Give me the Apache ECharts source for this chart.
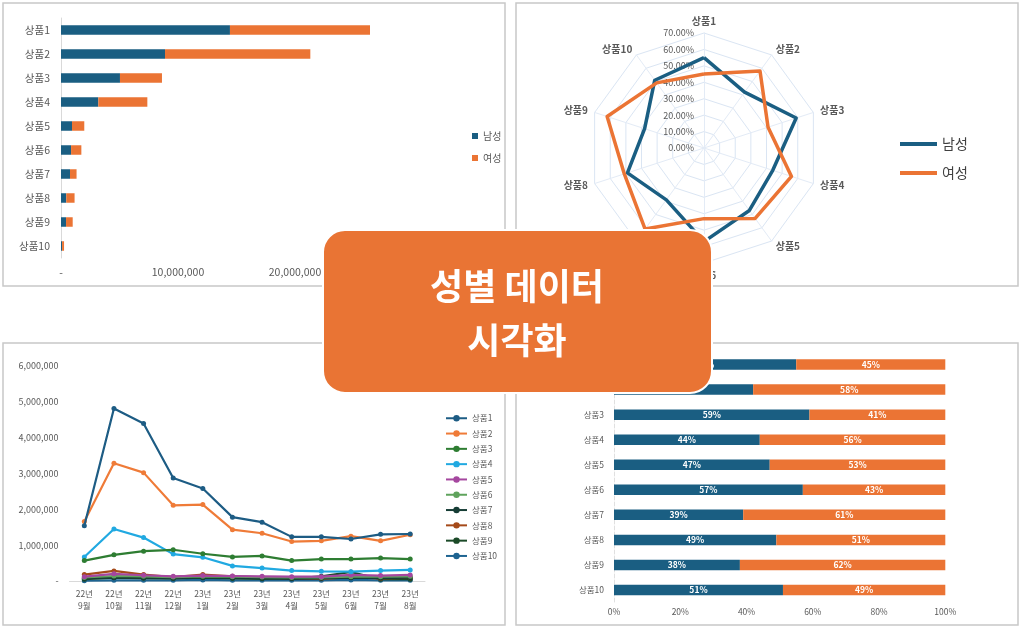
<!DOCTYPE html>
<html><head><meta charset="utf-8">
<script src="https://cdn.jsdelivr.net/npm/echarts@6/dist/echarts.min.js"></script>
<style>html,body{margin:0;padding:0;background:#fff}#c{width:1024px;height:630px}</style>
</head><body><div id="c"></div>
<script>
// ---------- data ----------
const products = ['상품1','상품2','상품3','상품4','상품5','상품6','상품7','상품8','상품9','상품10'];
const genders = ['남성','여성'];
const maleSales = [14440000, 8890000, 5040000, 3190000, 940000, 860000, 770000, 450000, 430000, 90000];
const femaleSales = [11970000, 12420000, 3590000, 4190000, 1050000, 880000, 560000, 710000, 570000, 170000];
const malePct = [55, 42, 59, 44, 47, 57, 39, 49, 38, 51];
const femalePct = [45, 58, 41, 56, 53, 43, 61, 51, 62, 49];
const months = ['22년\n9월','22년\n10월','22년\n11월','22년\n12월','23년\n1월','23년\n2월','23년\n3월','23년\n4월','23년\n5월','23년\n6월','23년\n7월','23년\n8월'];
const p1 = [1540000,4810000,4390000,2870000,2580000,1780000,1640000,1230000,1230000,1170000,1300000,1310000];
const p2 = [1660000,3280000,3020000,2110000,2130000,1430000,1330000,1100000,1120000,1250000,1120000,1290000];
const p3 = [570000,730000,830000,870000,760000,670000,700000,570000,610000,610000,640000,610000];
const p4 = [670000,1450000,1210000,750000,660000,420000,360000,290000,270000,260000,290000,310000];
const p5 = [120000,200000,160000,130000,150000,140000,130000,120000,120000,170000,150000,170000];
const p6 = [100000,140000,130000,110000,130000,120000,110000,100000,100000,120000,120000,130000];
const p7 = [80000,100000,90000,80000,100000,90000,80000,60000,70000,90000,80000,90000];
const p8 = [180000,280000,180000,110000,180000,130000,100000,70000,60000,110000,70000,90000];
const p9 = [50000,90000,80000,70000,90000,70000,60000,70000,130000,250000,50000,50000];
const p10 = [10000,20000,20000,20000,30000,20000,20000,20000,20000,30000,20000,20000];
const monthlySeries = [p1,p2,p3,p4,p5,p6,p7,p8,p9,p10];
const titleLines = ['성별 데이터','시각화'];

// ---------- style ----------
const FONT = '"Noto Sans CJK KR", "Noto Sans", sans-serif';
const NAVY = '#1a5e82', ORANGE = '#eb7434', GRAY = '#595959';
const lineColors = ['#1d5c84','#ef7b38','#2e7d32','#21a9e1','#a5479f','#5fa35c','#163d35','#a54a1a','#1b4a28','#1e6491'];
const numFmt = v => v === 0 ? '-' : v.toLocaleString('en-US');
const radarOrder = [0,9,8,7,6,5,4,3,2,1];

const chart = echarts.init(document.getElementById('c'), null, {renderer:'canvas'});
const option = {
  animation: false,
  backgroundColor: '#fff',
  textStyle: {fontFamily: FONT},
  grid: [
    {left: 61, top: 18, width: 351, height: 240},
    {left: 69.5, top: 365.7, width: 355.5, height: 215.3},
    {left: 614, top: 352, width: 331.3, height: 250.5}
  ],
  xAxis: [
    {gridIndex: 0, type: 'value', min: 0, max: 30000000, interval: 10000000,
     axisLine: {show: false}, axisTick: {show: false}, splitLine: {show: false},
     axisLabel: {formatter: numFmt, fontSize: 10.5, color: GRAY, margin: 9}},
    {gridIndex: 1, type: 'category', data: months, boundaryGap: true,
     axisLine: {lineStyle: {color: '#d9d9d9'}}, axisTick: {show: false},
     axisLabel: {fontSize: 8.5, color: GRAY, lineHeight: 12, margin: 7, interval: 0}},
    {gridIndex: 2, type: 'value', min: 0, max: 100, interval: 20,
     axisLine: {show: false}, axisTick: {show: false}, splitLine: {show: false},
     axisLabel: {formatter: '{value}%', fontSize: 8.5, color: GRAY, margin: 5}}
  ],
  yAxis: [
    {gridIndex: 0, type: 'category', data: products, inverse: true,
     axisLine: {lineStyle: {color: '#d9d9d9'}}, axisTick: {show: false},
     axisLabel: {fontSize: 10.5, color: GRAY, margin: 11}},
    {gridIndex: 1, type: 'value', min: 0, max: 6000000, interval: 1000000,
     axisLine: {show: false}, axisTick: {show: false}, splitLine: {show: false},
     axisLabel: {formatter: numFmt, fontSize: 9, color: GRAY, margin: 11}},
    {gridIndex: 2, type: 'category', data: products, inverse: true,
     axisLine: {lineStyle: {color: '#e0e0e0', type: 'dashed'}}, axisTick: {show: false},
     axisLabel: {fontSize: 8.5, color: GRAY, margin: 10}}
  ],
  radar: {
    center: [704, 148], radius: 115, startAngle: 90, splitNumber: 7, shape: 'polygon',
    indicator: radarOrder.map(i => i === 0
      ? {name: products[i], min: 0, max: 70, axisLabel: {show: true}}
      : {name: products[i], min: 0, max: 70}),
    axisName: {color: GRAY, fontSize: 10, fontWeight: 'bold'},
    nameGap: 7,
    splitLine: {lineStyle: {color: '#dae5f3', width: 1}},
    splitArea: {show: false},
    axisLine: {lineStyle: {color: '#e3ebf6'}},
    axisTick: {show: false},
    axisLabel: {show: false, formatter: v => v.toFixed(2) + '%', fontSize: 9, color: GRAY, margin: 10,
                showMinLabel: true, showMaxLabel: true}
  },
  legend: [
    {data: genders, orient: 'vertical', left: 467, top: 126, icon: 'rect', itemWidth: 6, itemHeight: 6,
     itemGap: 12, textStyle: {fontSize: 10, color: GRAY, fontFamily: FONT}},
    {data: genders, orient: 'vertical', left: 895, top: 132, icon: 'rect', itemWidth: 37, itemHeight: 4,
     itemGap: 15, textStyle: {fontSize: 14, color: '#404040', fontFamily: FONT}},
    {data: products, orient: 'vertical', left: 440, top: 409, itemWidth: 21, itemHeight: 8,
     itemGap: 6.8, textStyle: {fontSize: 8.5, color: GRAY, fontFamily: FONT}}
  ],
  series: [
    {name: genders[0], type: 'bar', stack: 'tl', xAxisIndex: 0, yAxisIndex: 0, data: maleSales,
     barWidth: 9.5, itemStyle: {color: NAVY}},
    {name: genders[1], type: 'bar', stack: 'tl', xAxisIndex: 0, yAxisIndex: 0, data: femaleSales,
     barWidth: 9.5, itemStyle: {color: ORANGE}},
    {name: genders[0], type: 'radar', radarIndex: 0, symbol: 'none',
     lineStyle: {width: 3.5, color: NAVY}, itemStyle: {color: NAVY},
     data: [{name: genders[0], value: radarOrder.map(i => malePct[i])}]},
    {name: genders[1], type: 'radar', radarIndex: 0, symbol: 'none',
     lineStyle: {width: 3.5, color: ORANGE}, itemStyle: {color: ORANGE},
     data: [{name: genders[1], value: radarOrder.map(i => femalePct[i])}]},
    ...monthlySeries.map((d, k) => ({
      name: products[k], type: 'line', xAxisIndex: 1, yAxisIndex: 1, data: d,
      symbol: 'circle', symbolSize: 5, lineStyle: {width: 2.2, color: lineColors[k]},
      itemStyle: {color: lineColors[k]}, z: 20 - k
    })),
    {name: '남성 비율', type: 'bar', stack: 'br', xAxisIndex: 2, yAxisIndex: 2, data: malePct,
     barWidth: 10.5, itemStyle: {color: NAVY},
     label: {show: true, position: 'inside', formatter: '{c}%', color: '#fff', fontSize: 8.5, fontWeight: 'bold'}},
    {name: '여성 비율', type: 'bar', stack: 'br', xAxisIndex: 2, yAxisIndex: 2, data: femalePct,
     barWidth: 10.5, itemStyle: {color: ORANGE},
     label: {show: true, position: 'inside', formatter: '{c}%', color: '#fff', fontSize: 8.5, fontWeight: 'bold'}}
  ],
  graphic: [
    {type: 'rect', silent: true, z: 0, shape: {x: 3, y: 3, width: 502, height: 283}, style: {fill: 'none', stroke: '#c8c8c8', lineWidth: 1.5}},
    {type: 'rect', silent: true, z: 0, shape: {x: 516, y: 3, width: 502, height: 283}, style: {fill: 'none', stroke: '#c8c8c8', lineWidth: 1.5}},
    {type: 'rect', silent: true, z: 0, shape: {x: 3, y: 343, width: 502, height: 282}, style: {fill: 'none', stroke: '#c8c8c8', lineWidth: 1.5}},
    {type: 'rect', silent: true, z: 0, shape: {x: 516, y: 343, width: 502, height: 282}, style: {fill: 'none', stroke: '#c8c8c8', lineWidth: 1.5}},
    {type: 'rect', silent: true, z: 100, shape: {x: 323, y: 230, width: 389, height: 163, r: 22},
     style: {fill: '#e97434', stroke: '#ffffff', lineWidth: 2}},
    {type: 'text', silent: true, z: 101, x: 517, y: 313,
     style: {text: titleLines.join('\n'), fill: '#ffffff', fontSize: 36, fontWeight: 'bold', fontFamily: FONT,
             align: 'center', verticalAlign: 'middle', lineHeight: 54}}
  ]
};
chart.setOption(option);
</script></body></html>
